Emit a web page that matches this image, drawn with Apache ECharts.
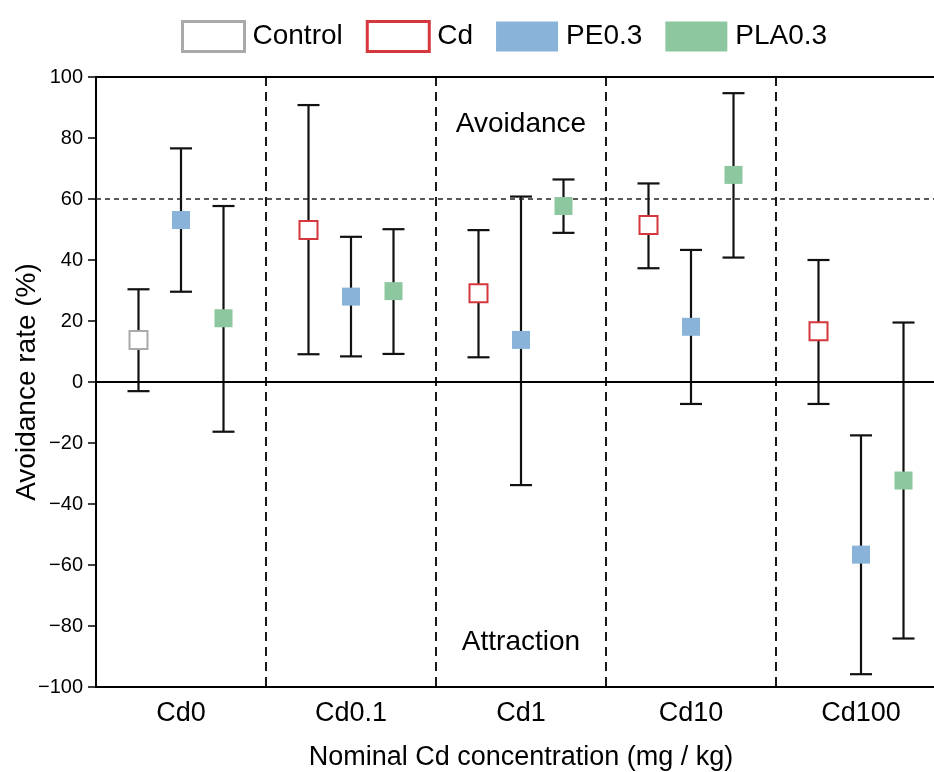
<!DOCTYPE html>
<html>
<head>
<meta charset="utf-8">
<script src="https://cdn.jsdelivr.net/npm/echarts@6/dist/echarts.min.js"></script>
<style>
html,body{margin:0;padding:0;background:#fff;}
#chart{width:934px;height:772px;}
</style>
</head>
<body>
<div id="chart"></div>
<script>
// ---- data ----
const categories = ['Cd0', 'Cd0.1', 'Cd1', 'Cd10', 'Cd100'];
const yTicks = [-100, -80, -60, -40, -20, 0, 20, 40, 60, 80, 100];

const controlMean  = [13.8, null, null, null, null];
const controlUpper = [30.4, null, null, null, null];
const controlLower = [-3.0, null, null, null, null];

const cdMean  = [null, 49.8, 29.1, 51.5, 16.6];
const cdUpper = [null, 90.8, 49.8, 65.1, 40.0];
const cdLower = [null,  9.1,  8.1, 37.3, -7.2];

const peMean  = [53.1, 28.0, 13.8, 18.1, -56.6];
const peUpper = [76.6, 47.6, 60.8, 43.3, -17.5];
const peLower = [29.6,  8.4, -33.8, -7.2, -95.8];

const plaMean  = [20.9, 29.8, 57.7, 67.9, -32.3];
const plaUpper = [57.7, 50.1, 66.4, 94.7, 19.5];
const plaLower = [-16.3, 9.2, 48.9, 40.8, -84.1];

const thresholdLine = 60;
const zeroLine = 0;
const annotations = [['Avoidance', 2, 84.5], ['Attraction', 2, -85.5]];

// ---- build ----
const FONT = 'Liberation Sans, Arial, Helvetica, sans-serif';
const groups = [
  {name: 'Control', mean: controlMean, up: controlUpper, lo: controlLower, slot: -0.25,
   style: {color: '#ffffff', borderColor: '#aaaaaa', borderWidth: 2}},
  {name: 'Cd', mean: cdMean, up: cdUpper, lo: cdLower, slot: -0.25,
   style: {color: '#ffffff', borderColor: '#d4373c', borderWidth: 2}},
  {name: 'PE0.3', mean: peMean, up: peUpper, lo: peLower, slot: 0,
   style: {color: '#89b3d8', borderWidth: 0}},
  {name: 'PLA0.3', mean: plaMean, up: plaUpper, lo: plaLower, slot: 0.25,
   style: {color: '#8dc79f', borderWidth: 0}}
];

const series = [];

// reference lines + annotations
series.push({
  type: 'scatter', xAxisIndex: 0, yAxisIndex: 0, silent: true,
  symbolSize: 0,
  itemStyle: {opacity: 1},
  data: annotations.map(a => ({value: [a[1], a[2]], name: a[0]})),
  label: {show: true, position: 'inside', formatter: p => p.name,
          fontFamily: FONT, fontSize: 28, color: '#000', opacity: 1},
  markLine: {
    silent: true, symbol: 'none', label: {show: false},
    data: [
      {yAxis: thresholdLine, lineStyle: {color: '#222', width: 1.5, type: [5, 4], opacity: 1}},
      {yAxis: zeroLine, lineStyle: {color: '#000', width: 1.8, type: 'solid', opacity: 1}}
    ]
  },
  z: 2
});

groups.forEach(g => {
  const bars = [];
  const pts = [];
  g.mean.forEach((m, i) => {
    if (m === null) return;
    bars.push([i + g.slot, g.lo[i], g.up[i]]);
    pts.push([i + g.slot, m]);
  });
  series.push({
    type: 'custom', xAxisIndex: 1, yAxisIndex: 0, silent: true, z: 3,
    data: bars,
    renderItem: function (params, api) {
      const x = api.value(0);
      const top = api.coord([x, api.value(2)]);
      const bot = api.coord([x, api.value(1)]);
      const hw = 11;
      const st = {stroke: '#111', lineWidth: 2.2};
      return {type: 'group', children: [
        {type: 'line', shape: {x1: top[0], y1: top[1], x2: bot[0], y2: bot[1]}, style: st},
        {type: 'line', shape: {x1: top[0] - hw, y1: top[1], x2: top[0] + hw, y2: top[1]}, style: st},
        {type: 'line', shape: {x1: bot[0] - hw, y1: bot[1], x2: bot[0] + hw, y2: bot[1]}, style: st}
      ]};
    }
  });
  series.push({
    name: g.name, type: 'scatter', xAxisIndex: 1, yAxisIndex: 0, z: 5,
    symbol: 'rect', symbolSize: 18,
    itemStyle: Object.assign({opacity: 1}, g.style),
    data: pts
  });
});

const option = {
  animation: false,
  backgroundColor: '#fff',
  textStyle: {fontFamily: FONT},
  legend: {
    left: 181, top: 20, padding: 0,
    icon: 'rect', itemWidth: 62, itemHeight: 30, itemGap: 23,
    textStyle: {fontFamily: FONT, fontSize: 28, color: '#000', padding: [0, 0, 0, 3]},
    data: groups.map(g => ({name: g.name, itemStyle: Object.assign({}, g.style,
      g.style.borderWidth ? {borderWidth: 3} : {})}))
  },
  grid: {left: 96, top: 77, bottom: 85, right: -12, show: true,
         outerBoundsMode: 'none', containLabel: false,
         borderColor: '#000', borderWidth: 1.8, backgroundColor: 'transparent'},
  xAxis: [
    {
      type: 'category', data: categories, boundaryGap: true,
      axisLine: {show: true, onZero: false, lineStyle: {color: '#000', width: 2}},
      axisTick: {show: false},
      axisLabel: {fontFamily: FONT, fontSize: 27, color: '#000', margin: 13},
      splitLine: {show: true, lineStyle: {color: '#000', width: 1.8, type: [9, 6]}},
      name: 'Nominal Cd concentration (mg / kg)', nameLocation: 'middle', nameGap: 57,
      nameMoveOverlap: false,
      nameTextStyle: {fontFamily: FONT, fontSize: 27, color: '#000'}
    },
    {
      type: 'value', min: -0.5, max: 4.5, show: false,
      axisLine: {onZero: false},
      splitLine: {show: false}
    }
  ],
  yAxis: {
    type: 'value', min: yTicks[0], max: yTicks[yTicks.length - 1], interval: 20,
    axisLine: {show: true, onZero: false, lineStyle: {color: '#000', width: 2}},
    axisTick: {show: true, inside: false, length: 8, lineStyle: {color: '#000', width: 1.5}},
    axisLabel: {fontFamily: FONT, fontSize: 20, color: '#000', margin: 13,
                formatter: v => (v < 0 ? '\u2212' + Math.abs(v) : String(v))},
    splitLine: {show: false},
    name: 'Avoidance rate (%)', nameLocation: 'middle', nameGap: 55,
    nameMoveOverlap: false,
    nameTextStyle: {fontFamily: FONT, fontSize: 28, color: '#000'}
  },
  series: series
};

const chart = echarts.init(document.getElementById('chart'), null, {renderer: 'canvas'});
chart.setOption(option);
</script>
</body>
</html>
